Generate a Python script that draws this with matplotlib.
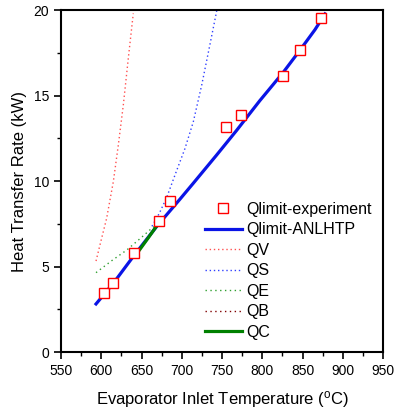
import matplotlib
matplotlib.use("Agg")
import matplotlib.pyplot as plt
from matplotlib.ticker import MultipleLocator

plt.rcParams['font.family'] = ['Liberation Sans', 'DejaVu Sans']
plt.rcParams['mathtext.fontset'] = 'custom'
plt.rcParams['mathtext.rm'] = 'Liberation Sans'

# Experimental points
exp_T = [603.8, 615, 640.3, 671.7, 685.4, 755, 773.6, 826, 846.5, 873]
exp_Q = [3.43, 4.04, 5.81, 7.68, 8.83, 13.16, 13.84, 16.14, 17.66, 19.53]

# ANLHTP prediction
anl_T = [593.5, 615, 640, 669, 698, 714, 743, 768, 797, 826, 847, 865.5, 878]
anl_Q = [2.81, 4.02, 5.60, 7.35, 8.95, 9.85, 11.50, 12.95, 14.70, 16.35, 17.66, 18.85, 19.77]

# Limits
qv_T = [593.5, 598.4, 606.7, 615, 621.2, 627.4, 633.6, 639.8]
qv_Q = [5.32, 6.26, 7.82, 9.96, 12.10, 14.44, 17.17, 19.80]

qs_T = [663, 672, 681, 692, 704, 714.4, 724.8, 735.1, 743.4]
qs_Q = [7.35, 8.10, 9.00, 10.40, 11.90, 13.47, 15.61, 18.00, 19.94]

qe_T = [593.5, 613, 631.6, 650.2, 662.6, 667]
qe_Q = [4.64, 5.34, 5.96, 6.71, 7.23, 7.37]

qb_T = []
qb_Q = []

qc_T = [646, 658, 669.7]
qc_Q = [5.87, 6.65, 7.43]

fig = plt.figure(figsize=(3.94, 4.11), dpi=100)
ax = fig.add_axes([61/394, 1-352/411, (383-61)/394, (352-10)/411])

ax.plot(exp_T, exp_Q, linestyle='none', marker='s', markersize=7,
        markerfacecolor='white', markeredgecolor='red', markeredgewidth=1.0,
        label='Qlimit-experiment', zorder=5)
ax.plot(anl_T, anl_Q, color='#0a14e6', lw=2.3, label='Qlimit-ANLHTP', zorder=3)
ax.plot(qv_T, qv_Q, color='#ff5050', lw=1.0, ls=(0, (1, 2)), label='QV')
ax.plot(qs_T, qs_Q, color='#3040ff', lw=1.0, ls=(0, (1, 2)), label='QS')
ax.plot(qe_T, qe_Q, color='#30a030', lw=1.0, ls=(0, (1, 2.5)), label='QE')
ax.plot(qb_T, qb_Q, color='#800000', lw=1.0, ls=(0, (1, 2.5)), label='QB')
ax.plot(qc_T, qc_Q, color='#008000', lw=2.3, label='QC', zorder=4)

ax.set_xlim(550, 950)
ax.set_ylim(0, 20)
ax.xaxis.set_major_locator(MultipleLocator(50))
ax.xaxis.set_minor_locator(MultipleLocator(25))
ax.yaxis.set_major_locator(MultipleLocator(5))
ax.yaxis.set_minor_locator(MultipleLocator(2.5))
ax.tick_params(which='major', direction='out', length=5, width=1.2, labelsize=10, top=False, right=False)
ax.tick_params(which='minor', direction='out', length=3, width=1.0, top=False, right=False)
for s in ax.spines.values():
    s.set_linewidth(1.5)

ax.set_xlabel(r'Evaporator Inlet Temperature ($\mathregular{^o}$C)', fontsize=12, labelpad=8)
ax.set_ylabel('Heat Transfer Rate (kW)', fontsize=12, labelpad=5)

ax.legend(loc='upper left', bbox_to_anchor=(205/394, 1-202/411), bbox_transform=fig.transFigure,
          frameon=False, fontsize=11.5, handlelength=2.3, handletextpad=0.3,
          labelspacing=0.34, borderpad=0, borderaxespad=0)

fig.savefig('out.png', dpi=100)
